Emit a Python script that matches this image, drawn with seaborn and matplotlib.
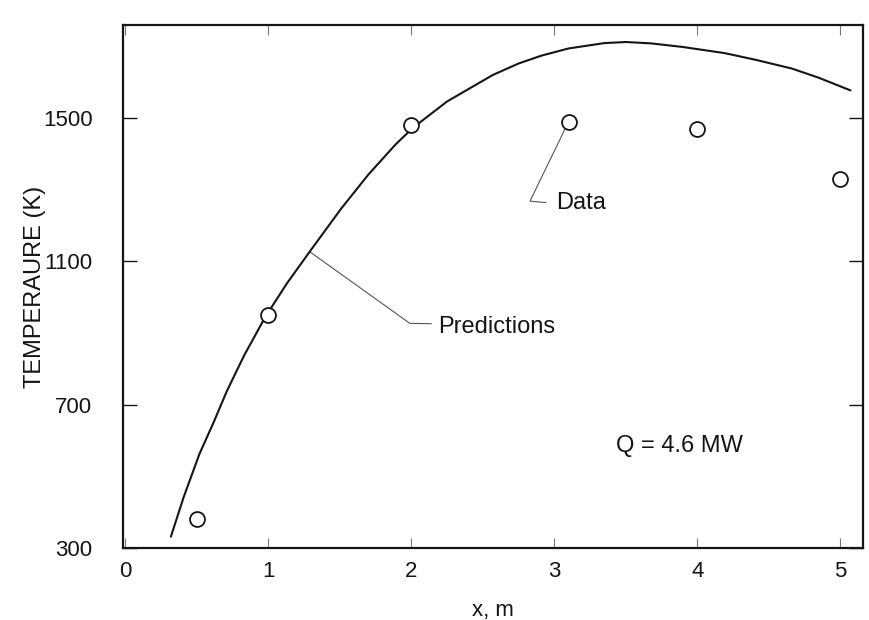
import matplotlib
matplotlib.use("Agg")
import matplotlib.pyplot as plt
import seaborn as sns
import pandas as pd

# Predicted temperature profile along the furnace
pred_x = [0.32, 0.41, 0.52, 0.62, 0.71, 0.83, 0.98, 1.13, 1.29, 1.51, 1.70, 1.89, 2.01,
          2.25, 2.57, 2.75, 2.91, 3.10, 3.35, 3.50, 3.68, 3.90, 4.19, 4.40, 4.66, 4.85, 5.07]
pred_T = [332, 443, 563, 652, 737, 836, 945, 1038, 1127, 1247, 1342, 1426, 1472,
          1546, 1620, 1652, 1674, 1694, 1709, 1712, 1708, 1698, 1681, 1663, 1638, 1612, 1577]

# Measured temperatures
data_x = [0.5, 1.0, 2.0, 3.1, 4.0, 5.0]
data_T = [380, 950, 1480, 1490, 1470, 1330]

x_ticks = [0, 1, 2, 3, 4, 5]
y_ticks = [300, 700, 1100, 1500]

sns.set_theme(style="white")
plt.rcParams["font.family"] = ["Liberation Sans", "DejaVu Sans"]
ink = "#151515"

pred = pd.DataFrame({"x": pred_x, "T": pred_T})
meas = pd.DataFrame({"x": data_x, "T": data_T})

fig = plt.figure(figsize=(8.69, 6.2), dpi=100)
ax = fig.add_axes([0.1415, 0.116, 0.852, 0.844])

sns.lineplot(data=pred, x="x", y="T", ax=ax, color=ink, linewidth=1.5,
             sort=False, zorder=2, solid_joinstyle="round", solid_capstyle="round")
sns.scatterplot(data=meas, x="x", y="T", ax=ax, marker="o", s=115,
                facecolor="white", edgecolor=ink, linewidth=1.3, zorder=4)

ax.set_xlim(-0.015, 5.16)
ax.set_ylim(300, 1760)

# Leader lines for the callouts
lead_col = "#555555"
px, pT = data_x[3], data_T[3]
ax.plot([px, 2.83, 2.94], [pT, 1268, 1264], color=lead_col, lw=0.8, zorder=3)
ax.text(3.01, 1262, "Data", fontsize=17, color=ink, va="center", ha="left")

cx, cT = pred_x[8], pred_T[8]
ax.plot([cx, 1.99, 2.14], [cT, 927, 926], color=lead_col, lw=0.8, zorder=1)
ax.text(2.19, 918, "Predictions", fontsize=17, color=ink, va="center", ha="left")

ax.text(3.43, 584, "Q = 4.6 MW", fontsize=17, color=ink, va="center", ha="left")

ax.set_xticks(x_ticks)
ax.set_xticklabels([str(v) for v in x_ticks])
ax.set_yticks(y_ticks)
ax.set_yticklabels([str(v) for v in y_ticks])

ax.tick_params(axis="x", which="both", direction="in", length=7, width=0.8,
               color="#777777", top=True, bottom=True, labelsize=16,
               labelcolor=ink, pad=9)
ax.tick_params(axis="y", which="both", direction="in", length=10, width=1.0,
               color=ink, left=True, right=True, labelsize=16,
               labelcolor=ink, pad=22)

ax.set_xlabel("x, m", fontsize=16, color=ink, labelpad=13)
ax.set_ylabel("TEMPERAURE (K)", fontsize=17, color=ink, labelpad=-2)

for side in ["left", "right", "top", "bottom"]:
    ax.spines[side].set_visible(True)
    ax.spines[side].set_color(ink)
    ax.spines[side].set_linewidth(1.6)

fig.savefig("out.png", dpi=100, facecolor="white")
